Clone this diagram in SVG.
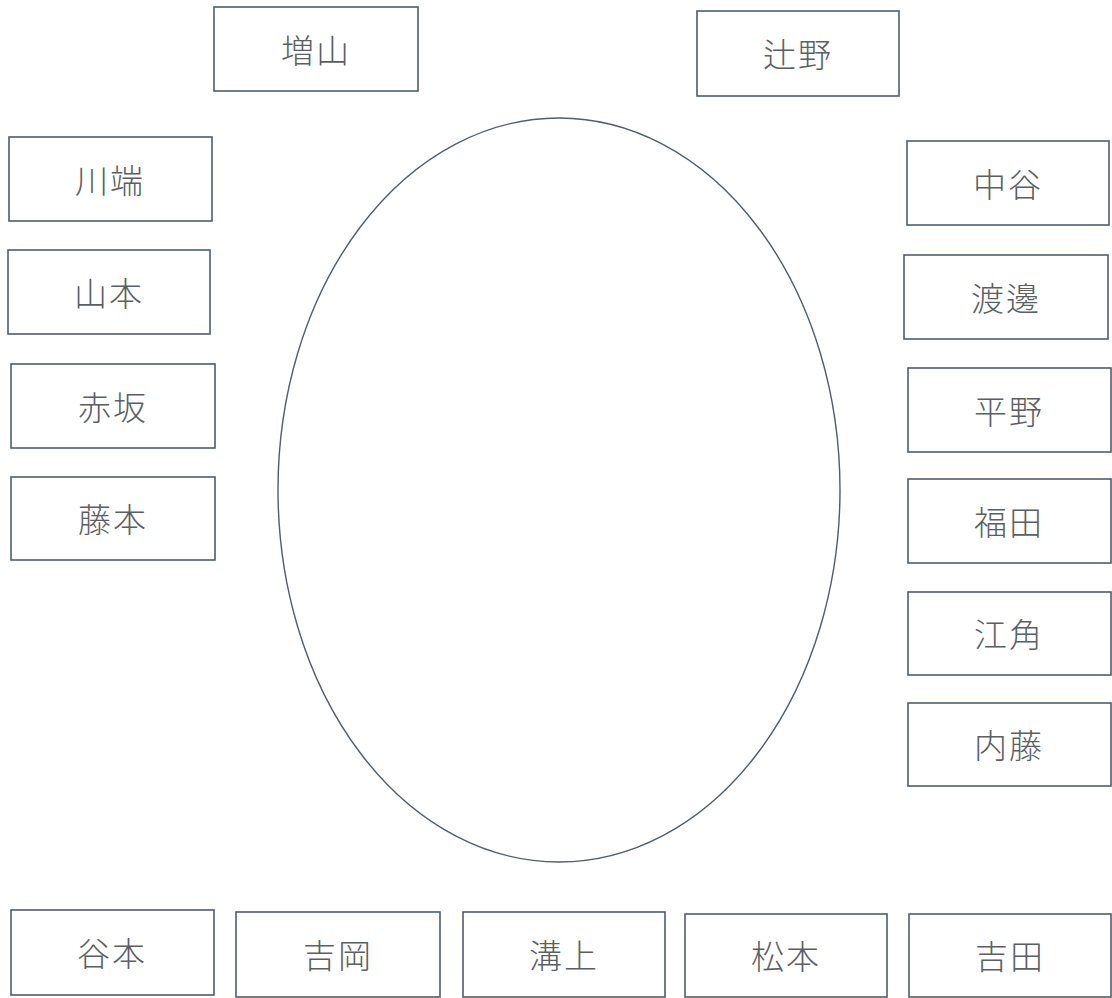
<svg xmlns="http://www.w3.org/2000/svg" width="1112" height="998" viewBox="0 0 1112 998">
<style>
.box{fill:#fff;stroke:#4f5e69;stroke-width:1.6}
.lbl{font-family:"Noto Sans CJK JP","Noto Sans CJK SC",sans-serif;font-size:33px;font-weight:300;fill:#5a5f63;text-anchor:middle;dominant-baseline:central;letter-spacing:2px}
.table{fill:none;stroke:#4f5e69;stroke-width:1.4}
</style>
<rect width="1112" height="998" fill="#fff"/>
<g id="table"><ellipse class="table" cx="559" cy="490" rx="281" ry="372"/></g>
<g id="n-masuyama"><rect class="box" x="214" y="7" width="204" height="84"/><text class="lbl" x="316" y="49">増山</text></g>
<g id="n-tsujino"><rect class="box" x="697" y="11" width="202" height="85"/><text class="lbl" x="798" y="53">辻野</text></g>
<g id="n-kawabata"><rect class="box" x="9" y="137" width="203" height="84"/><text class="lbl" x="110" y="179">川端</text></g>
<g id="n-yamamoto"><rect class="box" x="8" y="250" width="202" height="84"/><text class="lbl" x="109" y="292">山本</text></g>
<g id="n-akasaka"><rect class="box" x="11" y="364" width="204" height="84"/><text class="lbl" x="113" y="406">赤坂</text></g>
<g id="n-fujimoto"><rect class="box" x="11" y="477" width="204" height="83"/><text class="lbl" x="113" y="518">藤本</text></g>
<g id="n-nakatani"><rect class="box" x="907" y="141" width="202" height="84"/><text class="lbl" x="1008" y="183">中谷</text></g>
<g id="n-watanabe"><rect class="box" x="904" y="255" width="204" height="84"/><text class="lbl" x="1006" y="297">渡邊</text></g>
<g id="n-hirano"><rect class="box" x="908" y="368" width="203" height="84"/><text class="lbl" x="1009" y="410">平野</text></g>
<g id="n-fukuda"><rect class="box" x="908" y="479" width="203" height="84"/><text class="lbl" x="1009" y="521">福田</text></g>
<g id="n-esumi"><rect class="box" x="908" y="592" width="203" height="83"/><text class="lbl" x="1009" y="633">江角</text></g>
<g id="n-naito"><rect class="box" x="908" y="703" width="203" height="83"/><text class="lbl" x="1009" y="744">内藤</text></g>
<g id="n-tanimoto"><rect class="box" x="11" y="910" width="203" height="85"/><text class="lbl" x="112" y="952">谷本</text></g>
<g id="n-yoshioka"><rect class="box" x="236" y="912" width="204" height="85"/><text class="lbl" x="338" y="954">吉岡</text></g>
<g id="n-mizogami"><rect class="box" x="463" y="912" width="202" height="85"/><text class="lbl" x="564" y="954">溝上</text></g>
<g id="n-matsumoto"><rect class="box" x="685" y="914" width="202" height="83"/><text class="lbl" x="786" y="955">松本</text></g>
<g id="n-yoshida"><rect class="box" x="909" y="914" width="202" height="83"/><text class="lbl" x="1010" y="955">吉田</text></g>
<g id="connectors"></g>
</svg>
